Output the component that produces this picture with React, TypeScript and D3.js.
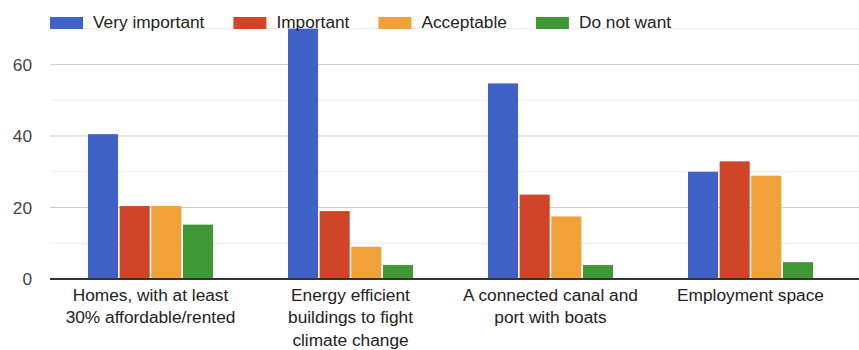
import React from "react";
import * as d3 from "d3";

const categories: string[][] = [
  ["Homes, with at least", "30% affordable/rented"],
  ["Energy efficient", "buildings to fight", "climate change"],
  ["A connected canal and", "port with boats"],
  ["Employment space"],
];
const seriesNames = ["Very important", "Important", "Acceptable", "Do not want"];
const veryImportant = [40.5, 70, 54.7, 30];
const important = [20.4, 19, 23.6, 32.9];
const acceptable = [20.4, 9, 17.5, 28.9];
const doNotWant = [15.2, 3.9, 3.9, 4.7];
const yTicks = [0, 20, 40, 60];
const yGrid = [10, 20, 30, 40, 50, 60, 70];

const colors = ["#3f62c6", "#cf4527", "#f1a139", "#3e9836"];
const FONT = "'Liberation Sans', Arial, sans-serif";
const FS = 17.3;

function measure(text: string): number {
  const c = document.createElement("canvas").getContext("2d");
  if (!c) return text.length * 9;
  c.font = `${FS}px 'Liberation Sans', Arial, sans-serif`;
  return c.measureText(text).width;
}

export default function App() {
  const W = 859;
  const H = 350;
  const left = 50.5;
  const right = 850.5;
  const y = d3.scaleLinear().domain([0, 70]).range([279, 28.7]).clamp(true);
  const x0 = d3
    .scaleBand<number>()
    .domain(d3.range(categories.length))
    .range([left, right])
    .paddingInner(0.375)
    .paddingOuter(0.1875);
  const x1 = d3
    .scaleBand<number>()
    .domain(d3.range(seriesNames.length))
    .range([0, x0.bandwidth()])
    .paddingInner(0.05);
  const series = [veryImportant, important, acceptable, doNotWant];

  const legendItems: { sx: number; tx: number; name: string; color: string }[] = [];
  let cx = 50;
  seriesNames.forEach((name, i) => {
    legendItems.push({ sx: cx, tx: cx + 43, name, color: colors[i] });
    cx = cx + 43 + measure(name) + 29;
  });

  return (
    <svg
      width={W}
      height={H}
      style={{ position: "absolute", left: 0, top: 0, background: "#fff" }}
      fontFamily={FONT}
    >
      {yGrid.map((v) => (
        <line
          key={v}
          x1={50}
          x2={W}
          y1={y(v)}
          y2={y(v)}
          stroke={v % 20 === 0 ? "#cfcfcf" : "#ebebeb"}
          strokeWidth={1}
        />
      ))}
      {yTicks.map((v) => (
        <text
          key={v}
          x={32}
          y={y(v)}
          dy="0.36em"
          textAnchor="end"
          fontSize={FS}
          fill="#444"
        >
          {v}
        </text>
      ))}
      {series.map((vals, si) =>
        vals.map((v, ci) => (
          <rect
            key={`${si}-${ci}`}
            x={(x0(ci) ?? 0) + (x1(si) ?? 0)}
            y={y(v)}
            width={x1.bandwidth()}
            height={y(0) - y(v)}
            fill={colors[si]}
          />
        ))
      )}
      <line x1={50} x2={W} y1={y(0)} y2={y(0)} stroke="#333" strokeWidth={2} />
      {categories.map((lines, ci) => (
        <text
          key={ci}
          x={(x0(ci) ?? 0) + x0.bandwidth() / 2}
          y={300.5}
          textAnchor="middle"
          fontSize={FS}
          fill="#222"
        >
          {lines.map((l, li) => (
            <tspan key={li} x={(x0(ci) ?? 0) + x0.bandwidth() / 2} dy={li === 0 ? 0 : 22.5}>
              {l}
            </tspan>
          ))}
        </text>
      ))}
      {legendItems.map((it) => (
        <g key={it.name}>
          <rect x={it.sx} y={17} width={33} height={12} fill={it.color} />
          <text x={it.tx} y={27.5} fontSize={FS} fill="#222">
            {it.name}
          </text>
        </g>
      ))}
    </svg>
  );
}
